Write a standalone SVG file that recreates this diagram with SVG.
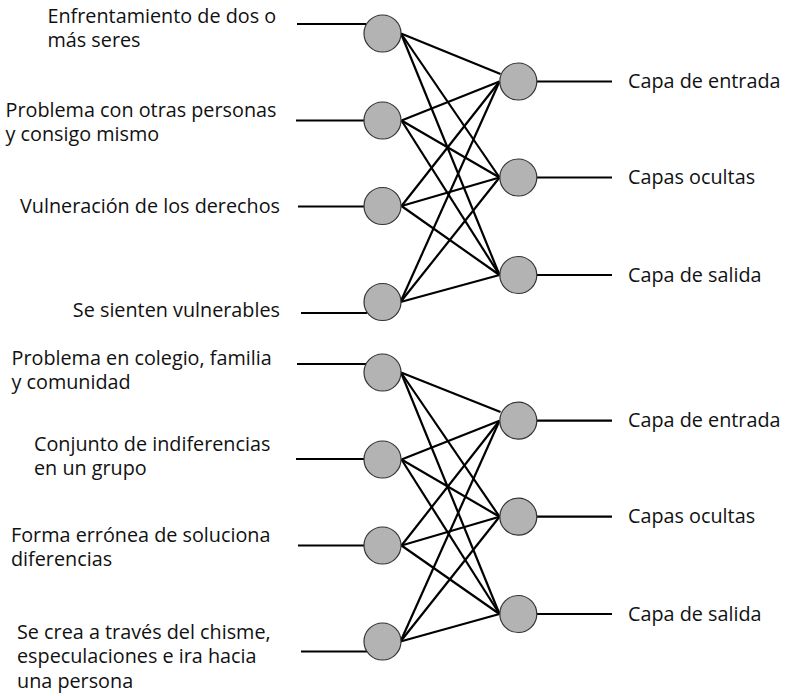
<svg xmlns="http://www.w3.org/2000/svg" width="785" height="696" viewBox="0 0 785 696">
<style>
text{font-family:"Open Sans","Noto Sans","Liberation Sans",sans-serif;font-size:19.8px;fill:#111}
.n{fill:#b3b3b3;stroke:#333;stroke-width:1.2}
.c line{stroke:#000;stroke-width:2.2}
.e{text-anchor:end}
</style>
<rect width="785" height="696" fill="#fff"/>
<g class="c" id="connectors">
<line x1="297" y1="24" x2="366" y2="24"/>
<line x1="296" y1="120.5" x2="364" y2="120.5"/>
<line x1="298" y1="206.5" x2="364" y2="206.5"/>
<line x1="301" y1="313" x2="367" y2="313"/>
<line x1="537" y1="81.5" x2="612" y2="81.5"/>
<line x1="537" y1="177.5" x2="612" y2="177.5"/>
<line x1="537" y1="275" x2="612" y2="275"/>
<line x1="401" y1="33.5" x2="500.5" y2="74"/>
<line x1="401" y1="33.5" x2="499.5" y2="177.5"/>
<line x1="401" y1="33.5" x2="499.5" y2="275"/>
<line x1="401.5" y1="120.5" x2="499.5" y2="81.5"/>
<line x1="401.5" y1="120.5" x2="499.5" y2="177.5"/>
<line x1="401.5" y1="120.5" x2="499.5" y2="275"/>
<line x1="401.5" y1="206" x2="499.5" y2="81.5"/>
<line x1="401.5" y1="206" x2="499.5" y2="177.5"/>
<line x1="401.5" y1="206" x2="499.5" y2="275"/>
<line x1="400.5" y1="302" x2="499.5" y2="81.5"/>
<line x1="400.5" y1="302" x2="499.5" y2="177.5"/>
<line x1="400.5" y1="302" x2="499.5" y2="275"/>
<line x1="297" y1="364" x2="366" y2="364"/>
<line x1="296" y1="459" x2="364" y2="459"/>
<line x1="298" y1="545.5" x2="364" y2="545.5"/>
<line x1="301" y1="651.5" x2="367" y2="651.5"/>
<line x1="537" y1="420.7" x2="612" y2="420.7"/>
<line x1="537" y1="516.7" x2="612" y2="516.7"/>
<line x1="537" y1="614" x2="612" y2="614"/>
<line x1="401" y1="372.5" x2="500.5" y2="412"/>
<line x1="401" y1="372.5" x2="499.5" y2="516.7"/>
<line x1="401" y1="372.5" x2="499.5" y2="614"/>
<line x1="401.5" y1="459.5" x2="499.5" y2="420.7"/>
<line x1="401.5" y1="459.5" x2="499.5" y2="516.7"/>
<line x1="401.5" y1="459.5" x2="499.5" y2="614"/>
<line x1="401.5" y1="545.5" x2="499.5" y2="420.7"/>
<line x1="401.5" y1="545.5" x2="499.5" y2="516.7"/>
<line x1="401.5" y1="545.5" x2="499.5" y2="614"/>
<line x1="400.5" y1="641.5" x2="499.5" y2="420.7"/>
<line x1="400.5" y1="641.5" x2="499.5" y2="516.7"/>
<line x1="400.5" y1="641.5" x2="499.5" y2="614"/>
</g>
<g id="in1"><circle class="n" cx="382.5" cy="33.5" r="18.5"/><text x="47.5" y="23">Enfrentamiento de dos o</text><text x="47.5" y="47">más seres</text></g>
<g id="in2"><circle class="n" cx="382.5" cy="120.5" r="18.5"/><text x="5.5" y="117">Problema con otras personas</text><text x="5.5" y="141">y consigo mismo</text></g>
<g id="in3"><circle class="n" cx="382.5" cy="206" r="18.5"/><text class="e" x="280" y="212.5">Vulneración de los derechos</text></g>
<g id="in4"><circle class="n" cx="382.5" cy="302" r="18.5"/><text class="e" x="280" y="317">Se sienten vulnerables</text></g>
<g id="out1"><circle class="n" cx="518.3" cy="81.5" r="18.5"/><text x="628" y="88">Capa de entrada</text></g>
<g id="out2"><circle class="n" cx="518.3" cy="177.5" r="18.5"/><text x="628" y="184">Capas ocultas</text></g>
<g id="out3"><circle class="n" cx="518.3" cy="275" r="18.5"/><text x="628" y="281.5">Capa de salida</text></g>
<g id="in5"><circle class="n" cx="382.5" cy="372.5" r="18.5"/><text x="11.5" y="365">Problema en colegio, familia</text><text x="11.5" y="389">y comunidad</text></g>
<g id="in6"><circle class="n" cx="382.5" cy="459.5" r="18.5"/><text x="34" y="451">Conjunto de indiferencias</text><text x="34" y="475">en un grupo</text></g>
<g id="in7"><circle class="n" cx="382.5" cy="545.5" r="18.5"/><text x="11" y="542">Forma errónea de soluciona</text><text x="11" y="566">diferencias</text></g>
<g id="in8"><circle class="n" cx="382.5" cy="641.5" r="18.5"/><text x="17" y="638.5">Se crea a través del chisme,</text><text x="17" y="663">especulaciones e ira hacia</text><text x="17" y="688">una persona</text></g>
<g id="out4"><circle class="n" cx="518.3" cy="420.7" r="18.5"/><text x="628" y="427">Capa de entrada</text></g>
<g id="out5"><circle class="n" cx="518.3" cy="516.7" r="18.5"/><text x="628" y="523">Capas ocultas</text></g>
<g id="out6"><circle class="n" cx="518.3" cy="614" r="18.5"/><text x="628" y="620.5">Capa de salida</text></g>
</svg>
